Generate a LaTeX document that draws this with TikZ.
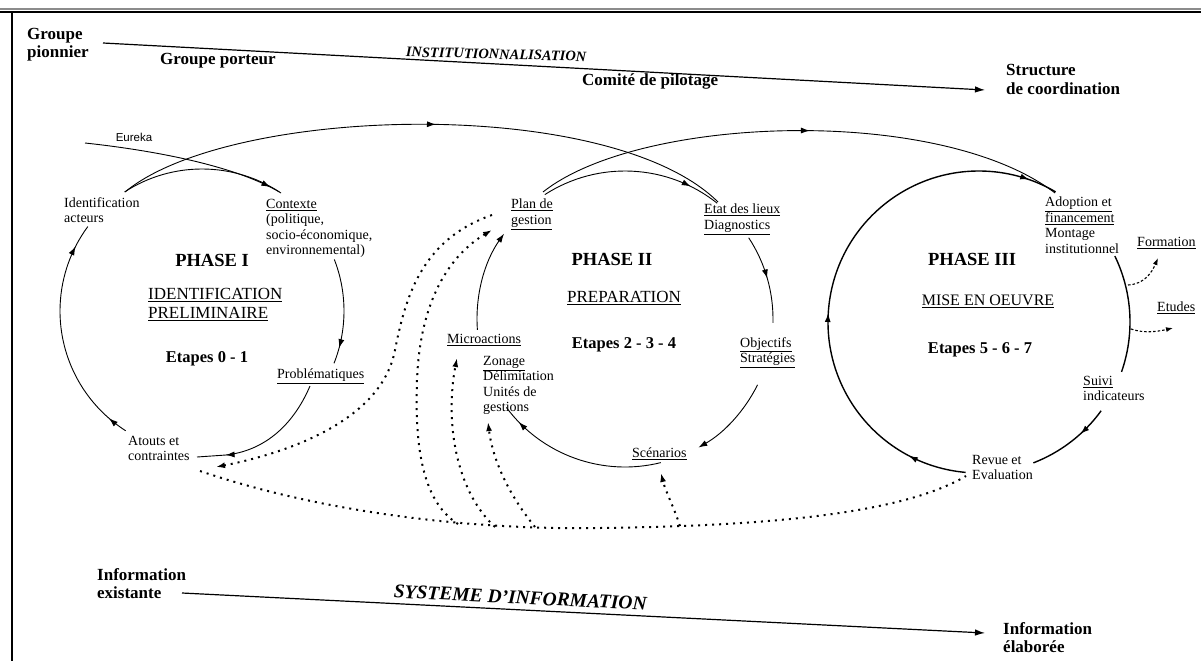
\documentclass[tikz,border=0pt]{standalone}
\usepackage{fontspec}
\setmainfont{Liberation Serif}
\newfontfamily\eurfont{Liberation Sans}
\usetikzlibrary{arrows.meta,decorations.markings,calc}
\begin{document}
\begin{tikzpicture}[x=1pt,y=-1pt,
  >={Latex[length=9pt,width=6pt]},
  lbl/.style={font=\fontsize{14}{15.5}\selectfont, align=left, anchor=north west, inner sep=0pt},
  ttl/.style={font=\bfseries\fontsize{18.5}{20}\selectfont, inner sep=0pt},
  sub/.style={font=\fontsize{17}{19.5}\selectfont, align=left, inner sep=0pt},
  etp/.style={font=\bfseries\fontsize{16.5}{18}\selectfont, inner sep=0pt},
  big/.style={font=\bfseries\fontsize{17}{18.5}\selectfont, align=left, anchor=north west, inner sep=0pt},
  bigi/.style={font=\bfseries\itshape\fontsize{14.5}{16}\selectfont, inner sep=0pt},
  cyc/.style={line width=0.9pt},
  cycb/.style={line width=1.4pt},
  axis/.style={line width=1.2pt, -{Latex[length=10pt,width=6.5pt]}},
  dots/.style={line width=2pt, dash pattern=on 2pt off 5pt},
  fine/.style={line width=1.1pt, dash pattern=on 2.5pt off 2pt},
  am/.style={postaction={decorate, decoration={markings, mark=at position #1 with {\arrow{>}}}}},
]
\useasboundingbox (0,0) rectangle (1201,661);
\fill[white] (0,0) rectangle (1201,661);
% frame
\draw[line width=2pt, black!45] (0,9) -- (1201,9);
\draw[line width=1.6pt] (0,12) -- (1201,12);
\draw[line width=2pt] (12,12) -- (12,661);

% ---------- top axis
\node[big] (gpio) at (27,28) {Groupe\\pionnier};
\node[big] (gpor) at (160,53) {Groupe porteur};
\node[bigi, anchor=base, rotate=-1.5] (inst) at (496,59) {INSTITUTIONNALISATION};
\node[big] (copi) at (582,73) {Comité de pilotage};
\node[big] (stru) at (1006,64) {Structure\\[1pt]de coordination};
\coordinate (tA) at (103,43);
\coordinate (tB) at (985,90);
\draw[axis] (tA) -- (tB);

% ---------- bottom axis
\node[big] (iex) at (97,568) {Information\\existante};
\node[big] (iel) at (1003,622) {Information\\élaborée};
\coordinate (bA) at (182,593);
\coordinate (bB) at (985,633);
\draw[axis] (bA) -- (bB);
\node[bigi, font=\bfseries\itshape\fontsize{19.5}{21}\selectfont, anchor=base, rotate=-2.9] (sys) at (520,604) {SYSTEME D'INFORMATION};

% ---------- PHASE I
\coordinate (c1) at (202,311);
\node[ttl] (p1) at (212,260) {PHASE I};
\node[sub, anchor=north west] (p1s) at (148,288) {\underline{IDENTIFICATION}\\\underline{PRELIMINAIRE}};
\node[etp] (e1) at (207,359) {Etapes 0 - 1};
\node[lbl] (iden) at (64,197) {Identification\\acteurs};
\node[lbl] (ctx) at (266,199) {\underline{Contexte}\\(politique,\\socio-économique,\\environnemental)};
\node[lbl] (prob) at (277,369) {\underline{Problématiques}};
\node[lbl] (atou) at (128,436) {Atouts et\\contraintes};
\node[font=\eurfont\fontsize{11.5}{13}\selectfont, inner sep=0pt] (eur) at (134,137) {Eureka};

\draw[cyc] ($(c1)+(-123:142)$) arc[start angle=-123, end angle=-57, radius=142];
\draw[cyc, am=0.85] ($(c1)+(-21.3:142)$) arc[start angle=-21.3, end angle=21.6, radius=142];
\draw[cyc, am=0.09, am=0.9] ($(c1)+(122.5:142)$) arc[start angle=122.5, end angle=216.5, radius=142];
\draw[cyc, am=0.8] (310,386) .. controls (292,428) and (262,451) .. (226,455) -- (197,457);
\draw[cyc, am=0.94] (85,143) .. controls (150,150) and (235,165) .. (281,193);

% ---------- PHASE II
\coordinate (c2) at (625,319);
\node[ttl] (p2) at (612,259) {PHASE II};
\node[sub, anchor=north] (p2s) at (624,291) {\underline{PREPARATION}};
\node[etp] (e2) at (624,345) {Etapes 2 - 3 - 4};
\node[lbl] (plan) at (511,199) {\underline{Plan de}\\\underline{gestion}};
\node[lbl] (etat) at (704,204) {\underline{Etat des lieux}\\\underline{Diagnostics}};
\node[lbl] (obj) at (740,337) {\underline{Objectifs}\\\underline{Stratégies}};
\node[lbl] (scen) at (632,448) {\underline{Scénarios}};
\node[lbl] (micro) at (447,334) {\underline{Microactions}};
\node[lbl] (zon) at (483,356) {\underline{Zonage}\\Délimitation\\Unités de\\gestions};

\draw[cyc, am=0.83] ($(c2)+(-122.8:148)$) arc[start angle=-122.8, end angle=-51.5, radius=148];
\draw[cyc, am=0.5] ($(c2)+(-33.3:148)$) arc[start angle=-33.3, end angle=1.5, radius=148];
\draw[cyc, ->] ($(c2)+(26.4:148)$) arc[start angle=26.4, end angle=60.3, radius=148];
\draw[cyc, am=0.89] ($(c2)+(76:148)$) arc[start angle=76, end angle=143.3, radius=148];
\draw[cyc, ->] ($(c2)+(175.8:148)$) arc[start angle=175.8, end angle=215.2, radius=148];

% ---------- PHASE III
\coordinate (c3) at (979,322);
\node[ttl] (p3) at (972,259) {PHASE III};
\node[sub, font=\fontsize{16}{18}\selectfont, anchor=north] (p3s) at (988,295) {\underline{MISE EN OEUVRE}};
\node[etp] (e3) at (980,350) {Etapes 5 - 6 - 7};
\node[lbl] (adop) at (1045,197) {\underline{Adoption et}\\\underline{financement}\\Montage\\institutionnel};
\node[lbl] (form) at (1137,237) {\underline{Formation}};
\node[lbl] (etud) at (1157,302) {\underline{Etudes}};
\node[lbl] (suiv) at (1083,376) {\underline{Suivi}\\indicateurs};
\node[lbl] (rev) at (972,455) {Revue et\\Evaluation};

\draw[cycb, am=0.11, am=0.43, am=0.946] ($(c3)+(95.1:151)$) arc[start angle=95.1, end angle=300.5, radius=151];
\draw[cycb] ($(c3)+(-25.9:151)$) arc[start angle=-25.9, end angle=19.3, radius=151];
\draw[cycb, am=0.36] ($(c3)+(36:151)$) arc[start angle=36, end angle=68.9, radius=151];
\draw[fine, -{Latex[length=7pt,width=5pt]}] (1128,285) .. controls (1145,284) and (1152,272) .. (1158,258);
\draw[fine, -{Latex[length=7pt,width=5pt]}] (1131,329) .. controls (1145,334) and (1160,331) .. (1173,328);

% ---------- big linking arcs
\draw[cyc, am=0.52] (125,192) .. controls (230,105) and (610,95) .. (718,202);
\draw[cyc, am=0.52] (543,192) .. controls (640,115) and (940,105) .. (1055,193);

% ---------- information flows (dotted)
\draw[dots] (200,471) .. controls (330,515) and (480,530) .. (600,528) .. controls (760,526) and (900,515) .. (966,476);
\draw[dots, ->] (492,215) .. controls (420,240) and (405,300) .. (395,350) .. controls (380,430) and (262,458) .. (216,467);
\draw[dots, ->] (458,524) .. controls (420,500) and (415,440) .. (417,380) .. controls (420,300) and (450,255) .. (492,230);
\draw[dots, ->] (495,527) .. controls (455,490) and (445,420) .. (457,358);
\draw[dots, ->] (535,527) .. controls (505,490) and (492,455) .. (488,422);
\draw[dots, ->] (680,526) .. controls (673,505) and (665,490) .. (661,473);
\end{tikzpicture}
\end{document}
